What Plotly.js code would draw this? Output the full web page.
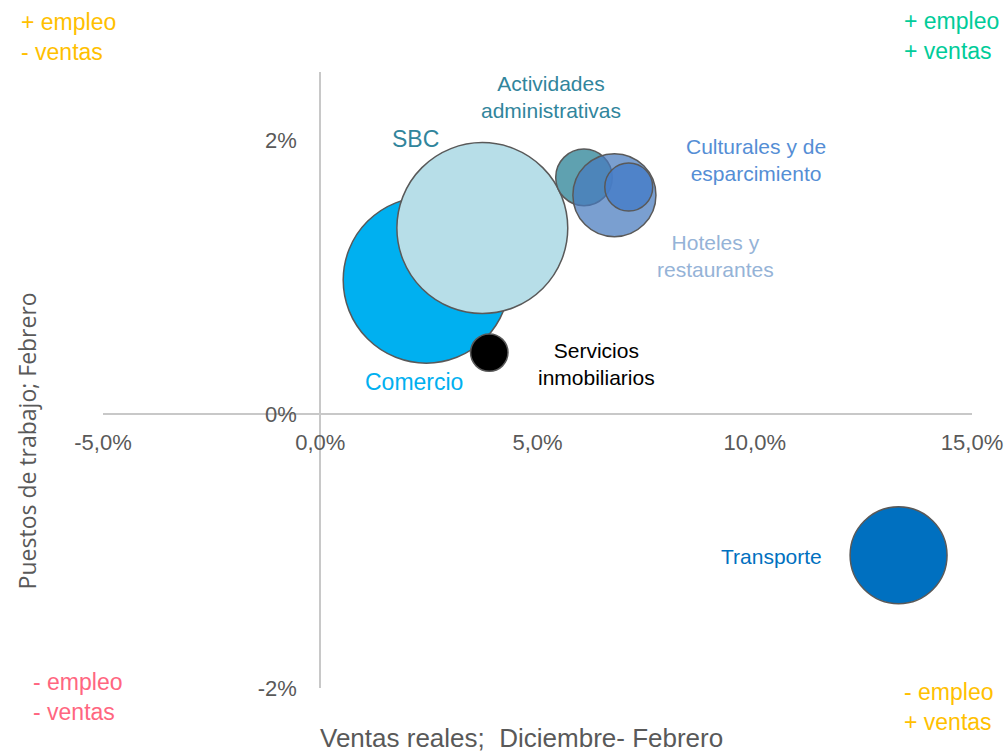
<!DOCTYPE html>
<html>
<head>
<meta charset="utf-8">
<script src="https://cdn.plot.ly/plotly-3.0.1.min.js"></script>
<style>html,body{margin:0;padding:0;background:#fff;}#chart{width:1008px;height:754px;}</style>
</head>
<body>
<div id="chart"></div>
<script>
// ---- data ----
const sectors = ["Comercio", "SBC", "Servicios inmobiliarios", "Actividades administrativas", "Hoteles y restaurantes", "Culturales y de esparcimiento", "Transporte"];
const labels = ["Comercio", "SBC", "Servicios<br>inmobiliarios", "Actividades<br>administrativas", "Hoteles y<br>restaurantes", "Culturales y de<br>esparcimiento", "Transporte"];
const ventas = [2.44, 3.73, 3.89, 6.07, 6.77, 7.10, 13.31];     // % real sales, Dec-Feb
const empleo = [0.98, 1.36, 0.45, 1.73, 1.60, 1.66, -1.03];    // % jobs, February
const peso = [27.6, 29.2, 1.4, 3.2, 6.9, 2.3, 9.4];              // bubble size
const xTickVals = [-5, 0, 5, 10, 15];
const xTickText = ["-5,0%", "0,0%", "5,0%", "10,0%", "15,0%"];
const yTickVals = [-2, 0, 2];
const yTickText = ["-2%", "0%", "2%"];
const quadrantText = ["+ empleo<br>- ventas", "+ empleo<br>+ ventas", "- empleo<br>- ventas", "- empleo<br>+ ventas"];

// ---- styles ----
const fills = ["#00B0F0", "#B7DEE8", "#000000", "#5FA1B0", "rgba(70,122,190,0.72)", "rgba(72,126,200,0.85)", "#0070C0"];
const labelColors = ["#00B0F0", "#31859C", "#000000", "#31859C", "#95B3D7", "#558ED5", "#0070C0"];
const labelSizes = [23, 23, 21, 21, 21, 21, 21];
const labelShift = [[-12, -102], [-67, 89], [107, -11], [-33, 80], [101, -61], [127, 27], [-127, -1]];
const quadColors = ["#FFC000", "#00CC99", "#FF6680", "#FFC000"];
const quadPos = [[-0.0968, 1.0576], [0.9194, 1.0584], [-0.0829, -0.0138], [0.9194, -0.0316]];

const FONT = "Arial, 'Liberation Sans', sans-serif";
const GREY = "#595959";

const trace = {
  type: "scatter",
  mode: "markers",
  x: ventas,
  y: empleo,
  text: sectors,
  hoverinfo: "text",
  cliponaxis: false,
  marker: {
    size: peso,
    sizemode: "area",
    sizeref: 0.002,
    color: fills,
    opacity: 1,
    line: { color: "#595959", width: 1.5 }
  }
};

const annotations = [];
sectors.forEach((s, i) => {
  annotations.push({
    x: ventas[i], y: empleo[i], xref: "x", yref: "y",
    text: labels[i], showarrow: false,
    xshift: labelShift[i][0], yshift: labelShift[i][1],
    xanchor: "center", yanchor: "middle", align: "center",
    font: { family: FONT, size: labelSizes[i], color: labelColors[i] }
  });
});
quadrantText.forEach((t, i) => {
  annotations.push({
    x: quadPos[i][0], y: quadPos[i][1], xref: "paper", yref: "paper",
    text: t, showarrow: false, xanchor: "left", yanchor: "middle", align: "left",
    font: { family: FONT, size: 23, color: quadColors[i] }
  });
});
annotations.push({
  x: 0.4816, y: -0.0819, xref: "paper", yref: "paper",
  text: "Ventas reales;  Diciembre- Febrero", showarrow: false,
  xanchor: "center", yanchor: "middle",
  font: { family: FONT, size: 26, color: GREY }
});
annotations.push({
  x: -0.087, y: 0.401, xref: "paper", yref: "paper",
  text: "Puestos de trabajo; Febrero", showarrow: false, textangle: -90,
  xanchor: "center", yanchor: "middle",
  font: { family: "'Open Sans', sans-serif", size: 23, color: GREY }
});

const layout = {
  width: 1008, height: 754,
  margin: { l: 103, r: 36, t: 72, b: 65.5, pad: 0 },
  paper_bgcolor: "#ffffff", plot_bgcolor: "#ffffff",
  showlegend: false,
  font: { family: FONT, color: GREY },
  xaxis: {
    range: [-5, 15], domain: [0, 1], anchor: "free", position: 2 / 4.5,
    showline: true, linecolor: "#C8C8C8", linewidth: 2,
    showgrid: false, zeroline: false, ticks: "",
    tickmode: "array", tickvals: xTickVals, ticktext: xTickText,
    ticklabelstandoff: 8,
    tickfont: { family: FONT, size: 22, color: GREY }
  },
  yaxis: {
    range: [-2, 2.5], domain: [0, 1], anchor: "free", position: 0.25,
    showline: true, linecolor: "#C8C8C8", linewidth: 2,
    showgrid: false, zeroline: false, ticks: "",
    tickmode: "array", tickvals: yTickVals, ticktext: yTickText,
    ticklabelstandoff: 18,
    tickfont: { family: FONT, size: 22, color: GREY }
  },
  annotations: annotations
};

Plotly.newPlot("chart", [trace], layout, { staticPlot: true, displayModeBar: false });
</script>
</body>
</html>
